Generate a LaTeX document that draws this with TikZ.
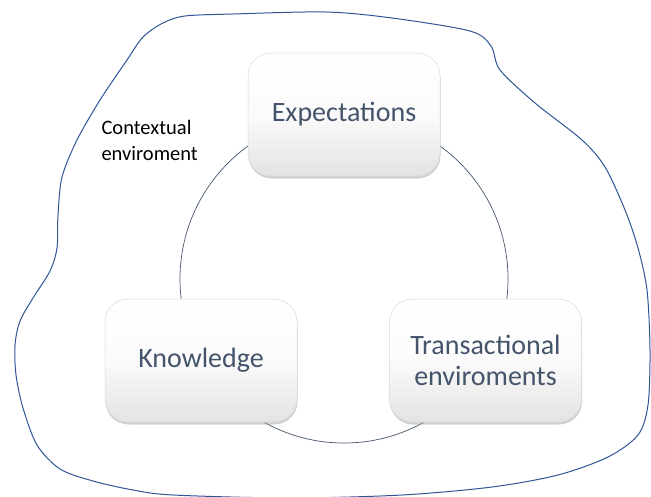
\documentclass[tikz,border=0pt]{standalone}
\usepackage{fontspec}
\setmainfont{Carlito}
\usetikzlibrary{shadows}
\definecolor{slate}{HTML}{44546A}
\definecolor{blobblue}{HTML}{2F5597}
\tikzset{
  box/.style={draw=gray!30, line width=0.5pt, rounded corners=23pt,
    minimum width=192pt, minimum height=123pt, align=center,
    top color=white, bottom color=gray!22, middle color=white!97!gray,
    text=slate, font=\fontsize{28}{31}\selectfont,
    drop shadow={shadow xshift=0.5pt, shadow yshift=-2.5pt, opacity=0.45, fill=gray!80}},
  ring/.style={draw=slate, line width=0.7pt},
  blob/.style={draw=blobblue, line width=1pt},
  ctx/.style={align=left, anchor=west, font=\fontsize{20.5}{26}\selectfont, text=black}
}
\begin{document}
\begin{tikzpicture}[x=1pt, y=-1pt]
\useasboundingbox (0,0) rectangle (651,496);
\draw[blob] plot[smooth cycle, tension=0.5] coordinates {
 (326,12) (392,18) (470,31) (491,46) (500,70) (535,103) (582,140) (605,167)
 (625,210) (638,248) (647,290) (650,350) (648,405) (638,435) (608,457) (558,475)
 (492,487) (402,495) (290,498) (173,495) (133,490) (93,481) (60,469) (37,445)
 (23,408) (16,375) (15,345) (20,321) (33,298) (50,271) (57,248) (58,215)
 (62,177) (77,140) (100,100) (127,60) (143,37) (163,23) (185,16) (233,14)};
\coordinate (ctr) at (344,279);
\draw[ring] (ctr) circle[radius=164pt];
\node[box] (E) at (344,114.5) {Expectations};
\node[box] (K) at (201,360.5) {Knowledge};
\node[box] (T) at (485.5,360.5) {Transactional\\enviroments};
\node[ctx] (C) at (98,140) {Contextual\\enviroment};
\end{tikzpicture}
\end{document}
